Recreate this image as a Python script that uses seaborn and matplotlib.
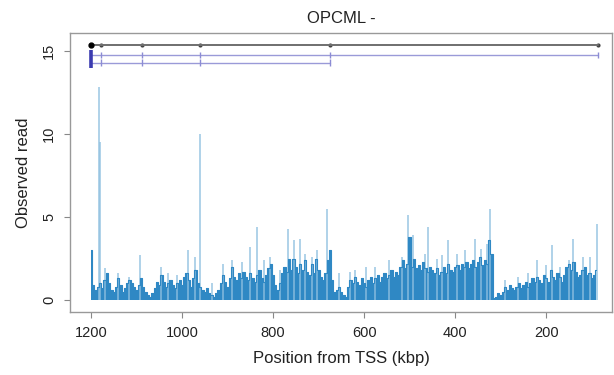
import numpy as np
import pandas as pd
import matplotlib
matplotlib.use("Agg")
import matplotlib.pyplot as plt
import seaborn as sns

# ---------- data ----------
# read depth in 5 kbp bins, from 1200 kbp down to 90 kbp upstream of the TSS
bin_pos = np.arange(1200, 89, -5)
bin_reads = [
    3.0, 0.9, 0.6, 0.8, 1.0, 0.7, 1.2, 1.6, 1.0, 0.6,   # 1200-1155
    0.5, 0.8, 1.3, 0.9, 0.5, 0.7, 1.0, 1.2, 1.0, 0.8,   # 1150-1105
    0.6, 0.9, 1.3, 0.8, 0.5, 0.3, 0.2, 0.4, 0.7, 1.1,   # 1100-1055
    0.9, 1.5, 1.1, 0.8, 1.0, 1.2, 0.9, 0.7, 1.0, 1.2,   # 1050-1005
    0.9, 1.4, 1.6, 1.2, 0.8, 1.3, 1.8, 1.0, 0.8, 0.6,   # 1000-955
    0.5, 0.7, 0.4, 0.3, 0.2, 0.4, 0.6, 1.0, 1.5, 1.1,   # 950-905
    0.8, 1.3, 2.0, 1.4, 1.2, 1.6, 1.3, 1.7, 1.4, 1.2,   # 900-855
    1.6, 1.3, 1.1, 1.5, 1.8, 1.3, 1.1, 1.5, 1.9, 2.2,   # 850-805
    1.5, 0.9, 0.6, 1.0, 1.6, 2.0, 1.7, 2.5, 1.8, 2.5,   # 800-755
    2.0, 1.6, 2.2, 1.8, 2.4, 1.7, 1.5, 2.2, 1.6, 2.5,   # 750-705
    1.8, 1.4, 1.2, 1.6, 2.4, 3.0, 1.2, 0.5, 0.6, 0.8,   # 700-655
    0.5, 0.3, 0.2, 0.8, 1.2, 1.0, 1.4, 1.1, 0.9, 1.3,   # 650-605
    1.0, 0.8, 1.2, 1.4, 1.0, 1.3, 1.5, 1.1, 1.4, 1.6,   # 600-555
    1.3, 1.5, 1.8, 1.4, 1.7, 1.5, 2.0, 2.4, 1.9, 2.2,   # 550-505
    3.8, 2.0, 2.5, 1.9, 2.1, 1.8, 2.3, 1.9, 1.7, 2.0,   # 500-455
    1.8, 1.6, 1.9, 1.5, 1.7, 2.0, 1.6, 2.2, 1.8, 1.7,   # 450-405
    2.0, 2.1, 1.8, 2.2, 2.0, 2.3, 1.9, 2.2, 2.4, 2.0,   # 400-355
    2.3, 2.6, 2.1, 2.4, 2.2, 3.6, 2.8, 0.1, 0.2, 0.4,   # 350-305
    0.3, 0.5, 0.8, 0.6, 0.9, 0.7, 0.6, 0.8, 1.0, 0.7,   # 300-255
    0.9, 1.1, 0.8, 1.0, 1.3, 1.1, 1.4, 1.2, 1.0, 1.5,   # 250-205
    1.3, 1.1, 1.8, 1.4, 1.2, 1.6, 1.4, 1.1, 1.5, 2.0,   # 200-155
    2.2, 1.8, 2.3, 1.7, 1.4, 1.5, 1.8, 2.0, 1.5, 1.6,   # 150-105
    1.3, 1.5, 1.8,                                      # 100-90
]

# single-position spikes above the binned signal
spike_pos = [1182, 1180, 1169, 1141, 1116, 1092, 1047, 1030, 1012, 987,
             971, 960, 935, 910, 890, 868, 851, 835, 820, 807,
             785, 767, 754, 741, 730, 714, 703, 681, 655, 630,
             620, 595, 575, 545, 516, 503, 492, 466, 459, 440,
             428, 415, 396, 378, 356, 343, 330, 323, 290, 262,
             240, 220, 200, 188, 170, 150, 141, 118, 103, 88]
spike_reads = [12.8, 9.5, 1.9, 1.6, 1.4, 2.7, 2.0, 1.6, 1.5, 3.0,
               2.6, 10.0, 1.0, 2.2, 2.4, 2.3, 3.2, 4.4, 2.4, 2.6,
               1.8, 4.3, 3.6, 3.7, 2.8, 2.6, 3.0, 5.5, 1.6, 1.7,
               1.8, 2.0, 2.0, 2.4, 2.6, 5.1, 3.9, 2.8, 4.4, 2.5,
               2.7, 3.6, 2.8, 3.0, 3.7, 3.1, 3.4, 5.5, 1.2, 1.4,
               1.6, 2.4, 2.1, 3.3, 2.0, 2.4, 3.7, 2.6, 2.6, 4.6]

# gene model: exon positions (kbp) for the gene and two transcripts
gene_exons = [1200, 1178, 1088, 960, 675, 86]
tx1_exons = [1200, 1178, 1088, 960, 675, 86]
tx2_exons = [1200, 1178, 1088, 960, 675]

TITLE = "OPCML -"
XLABEL = "Position from TSS (kbp)"
YLABEL = "Observed read"
xticks = [1200, 1000, 800, 600, 400, 200]
yticks = [0, 5, 10, 15]

# ---------- plot ----------
sns.set_theme(style="white")
plt.rcParams["font.family"] = ["Liberation Sans", "DejaVu Sans"]

fig = plt.figure(figsize=(6.14, 3.75), dpi=100)
ax = fig.add_axes([0.114, 0.168, 0.883, 0.744])

dark = "#2f88c4"
light = "#8fc0e0"

# spikes first, binned signal drawn over them
ax.vlines(spike_pos, 0, spike_reads, color=light, linewidth=1.1, alpha=0.9)
sns.lineplot(x=bin_pos, y=bin_reads, drawstyle="steps-mid", color=dark,
             linewidth=0.8, ax=ax)
ax.fill_between(bin_pos, 0, bin_reads, step="mid", color=dark, linewidth=0)

# gene model lines
y_gene, y_tx1, y_tx2 = 15.35, 14.75, 14.3
ax.plot([max(gene_exons), min(gene_exons)], [y_gene, y_gene], color="#6f6f6f", lw=1.4)
sns.scatterplot(x=gene_exons[1:], y=[y_gene] * (len(gene_exons) - 1), color="#444444",
                s=9, linewidth=0, ax=ax)
ax.plot([gene_exons[0]], [y_gene], "o", color="black", ms=3.5)
ax.plot([max(tx1_exons), min(tx1_exons)], [y_tx1, y_tx1], color="#9a9ad8", lw=1.0)
ax.plot([max(tx2_exons), min(tx2_exons)], [y_tx2, y_tx2], color="#9a9ad8", lw=1.0)
ax.vlines(tx1_exons[1:], y_tx1 - 0.2, y_tx1 + 0.2, color="#8c8cd4", lw=1.0)
ax.vlines(tx2_exons[1:], y_tx2 - 0.2, y_tx2 + 0.2, color="#8c8cd4", lw=1.0)
ax.vlines([tx1_exons[0]], y_tx2 - 0.3, y_tx1 + 0.3, color="#3b3bb0", lw=2.6)

ax.set_xlim(1246, 55)
ax.set_ylim(-0.72, 16.08)
ax.set_xticks(xticks)
ax.set_yticks(yticks)
ax.set_yticklabels([str(t) for t in yticks], rotation=90, va="center")
ax.tick_params(axis="both", which="both", direction="out", length=4, width=0.8,
               color="#888888", labelsize=10.5, labelcolor="#222222",
               bottom=True, left=True, pad=6)
for sp in ax.spines.values():
    sp.set_color("#999999")
    sp.set_linewidth(1.0)

ax.set_title(TITLE, fontsize=12, pad=7, color="#222222")
ax.set_xlabel(XLABEL, fontsize=12, labelpad=8, color="#222222")
ax.set_ylabel(YLABEL, fontsize=12, labelpad=8, color="#222222")

fig.savefig("out.png", dpi=100)
